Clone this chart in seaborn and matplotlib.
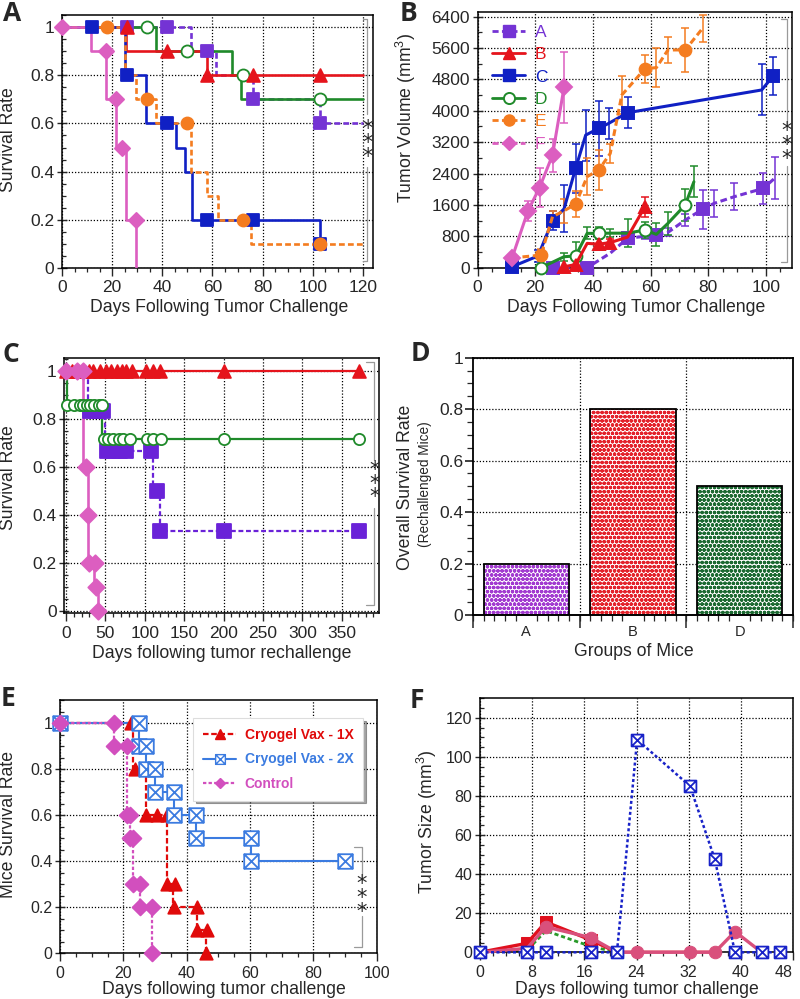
import matplotlib
matplotlib.use("Agg")
import matplotlib.pyplot as plt
import seaborn as sns
from matplotlib.path import Path
from matplotlib.lines import Line2D
from matplotlib.patches import Rectangle
from matplotlib.ticker import MultipleLocator

# ---------------- data ----------------

# Panel A: survival after tumor challenge (step curves + marked points)
a_A_days = [0, 51.5, 61.5, 76, 103, 120]
a_A_surv = [1, 0.9, 0.8, 0.7, 0.6, 0.6]
a_A_mk_days = [26, 42, 58, 76, 103]
a_A_mk_surv = [1, 1, 0.9, 0.7, 0.6]

a_B_days = [0, 25.5, 58, 120]
a_B_surv = [1, 0.9, 0.8, 0.8]
a_B_mk_days = [26, 42, 58, 76, 103]
a_B_mk_surv = [1, 0.9, 0.8, 0.8, 0.8]

a_C_days = [0, 25.2, 33.5, 45.5, 48.9, 51.8, 103]
a_C_surv = [1, 0.8, 0.6, 0.5, 0.4, 0.2, 0.1]
a_C_mk_days = [12, 26, 42, 58, 76, 103]
a_C_mk_surv = [1, 0.8, 0.6, 0.2, 0.2, 0.1]

a_D_days = [0, 37.5, 67.8, 71.5, 120]
a_D_surv = [1, 0.9, 0.8, 0.7, 0.7]
a_D_mk_days = [34, 50, 72, 103]
a_D_mk_surv = [1, 0.9, 0.8, 0.7]

a_E_days = [0, 25.2, 29.5, 37.5, 51.5, 58, 62.2, 75.2, 120]
a_E_surv = [1, 0.8, 0.7, 0.6, 0.4, 0.3, 0.2, 0.1, 0.1]
a_E_mk_days = [18, 34, 50, 72, 103]
a_E_mk_surv = [1, 0.7, 0.6, 0.2, 0.1]

a_F_days = [0, 11.5, 17.5, 21.5, 25.5, 29.5]
a_F_surv = [1, 0.9, 0.7, 0.5, 0.2, 0]
a_F_mk_days = [0, 17.5, 21.5, 24, 29.5]
a_F_mk_surv = [1, 0.9, 0.7, 0.5, 0.2]

# Panel B: tumor volume (mean, error, indices that carry a marker)
b_A_days = [26, 38, 46, 52, 58, 62, 66, 72, 78, 82, 89, 99, 103]
b_A_vol = [0, 0, 370, 750, 800, 830, 900, 1215, 1490, 1640, 1810, 2020, 2280]
b_A_err = [0, 0, 0, 100, 80, 80, 100, 150, 500, 350, 350, 400, 530]
b_A_marked = [0, 1, 3, 5, 8, 11]

b_B_days = [30, 34, 38, 42, 46, 52, 58]
b_B_vol = [25, 80, 620, 600, 640, 780, 1550]
b_B_err = [0, 0, 0, 150, 100, 100, 250]
b_B_marked = [0, 1, 3, 4, 6]

b_C_days = [12, 21, 26, 30, 34, 37.5, 42, 45.5, 52, 98.5, 102.5]
b_C_vol = [25, 300, 1200, 1500, 2530, 3380, 3550, 3680, 3950, 4530, 4890]
b_C_err = [0, 150, 250, 600, 630, 650, 700, 400, 400, 650, 480]
b_C_marked = [0, 2, 4, 6, 8, 10]

b_D_days = [22, 30, 34, 38, 42, 46, 52, 58, 62, 66, 72, 75]
b_D_vol = [0, 280, 300, 875, 875, 880, 880, 960, 850, 1130, 1600, 2190]
b_D_err = [0, 100, 350, 150, 150, 100, 350, 200, 300, 300, 400, 400]
b_D_marked = [0, 2, 4, 7, 10]

b_E_days = [12, 22, 26, 30, 34, 38, 42, 46, 50, 58, 62, 66, 72, 78]
b_E_vol = [250, 320, 1300, 1450, 1620, 2320, 2490, 2910, 4400, 5070, 5100, 5550, 5550, 6100]
b_E_err = [0, 150, 150, 300, 330, 470, 500, 250, 480, 350, 500, 330, 550, 350]
b_E_marked = [1, 4, 6, 9, 12]

b_F_days = [12, 17.5, 21.5, 26, 30]
b_F_vol = [255, 1450, 2040, 2870, 4600]
b_F_err = [0, 250, 500, 420, 900]
b_F_marked = [0, 1, 2, 3, 4]

# Panel C: survival after tumor rechallenge
c_B_days = [0, 375]
c_B_surv = [1, 1]
c_B_mk_days = [0, 8, 15, 22, 30, 35, 43, 51, 58, 65, 71, 77, 84, 102, 111, 120, 200, 372]
c_B_mk_surv = [1] * 18

c_D_days = [0, 1, 45.5, 372]
c_D_surv = [1, 0.857, 0.714, 0.714]
c_D_mk_days = [1, 10, 18, 22, 27, 31, 36, 42, 46,
               48, 54, 60, 67, 73, 81, 103, 111, 121, 201, 372]
c_D_mk_surv = [0.857] * 9 + [0.714] * 11

c_A_days = [0, 28.7, 49.8, 111, 119.4, 372]
c_A_surv = [1, 0.833, 0.667, 0.5, 0.333, 0.333]
c_A_mk_days = [31, 39, 47, 52, 60, 69, 77, 108, 116, 120, 200, 372]
c_A_mk_surv = [0.833, 0.833, 0.833, 0.667, 0.667, 0.667, 0.667, 0.667, 0.5, 0.333, 0.333, 0.333]

c_F_days = [0, 21.5, 28.7, 36.3, 40.5]
c_F_surv = [1, 0.6, 0.2, 0.1, 0]
c_F_mk_days = [0, 14, 22, 25.7, 28.7, 29.5, 37, 39, 40.5]
c_F_mk_surv = [1, 1, 1, 0.6, 0.4, 0.2, 0.2, 0.1, 0]

# Panel D: overall survival of rechallenged mice
d_groups = ["A", "B", "D"]
d_rates = [0.2, 0.8, 0.5]

# Panel E: survival, cryogel vaccine
e_1x_days = [0, 23, 27, 33.8, 35.7, 43.3, 46]
e_1x_surv = [1, 0.8, 0.6, 0.3, 0.2, 0.1, 0]
e_1x_mk_days = [22.4, 23.8, 27, 30.6, 33.8, 33.8, 36.4, 35.9, 43.3, 43.3, 46.3, 46]
e_1x_mk_surv = [1, 0.8, 0.6, 0.6, 0.6, 0.3, 0.3, 0.2, 0.2, 0.1, 0.1, 0]

e_2x_days = [0, 25.1, 27.1, 29.9, 36.1, 43.1, 60.2, 90]
e_2x_surv = [1, 0.9, 0.8, 0.7, 0.6, 0.5, 0.4, 0.4]
e_2x_mk_days = [0, 25.1, 25.1, 27.1, 27.1, 29.9, 29.9, 36.1, 36.1, 43.1, 43.1, 60.2, 60.2, 90]
e_2x_mk_surv = [1, 1, 0.9, 0.9, 0.8, 0.8, 0.7, 0.7, 0.6, 0.6, 0.5, 0.5, 0.4, 0.4]

e_ctl_days = [0, 17.2, 21, 22.2, 23, 25.3, 29]
e_ctl_surv = [1, 0.9, 0.6, 0.5, 0.3, 0.2, 0]
e_ctl_mk_days = [0, 17.2, 17.2, 21, 21, 22, 22.2, 23, 23, 25.3, 25.3, 29, 29]
e_ctl_mk_surv = [1, 1, 0.9, 0.9, 0.6, 0.6, 0.5, 0.5, 0.3, 0.3, 0.2, 0.2, 0]

# Panel F: tumor size
f_red_days = [0, 7.2, 10.1, 17, 21, 24.1, 32.2, 36]
f_red_size = [0, 4.6, 15.5, 6.3, 0, 0, 0, 0]
f_rose_days = [0, 7.2, 10.1, 17, 21, 24.1, 32.2, 36, 39.1, 43.2]
f_rose_size = [0, 2, 13, 7.5, 0, 0, 0, 0, 10.6, 0]
f_green_days = [0, 7.2, 10.1, 17, 21]
f_green_size = [0, 1, 11, 3, 0]
f_blue_days = [0, 7.2, 10.1, 17, 21, 24.1, 32.2, 36, 39.1, 43.2, 46]
f_blue_size = [0, 0, 0, 0, 0, 108.8, 85.1, 47.7, 0, 0, 0]
f_ticks = [0, 8, 16, 24, 32, 40, 48]

# ---------------- styling ----------------
PURPLE = "#7433d4"
RED = "#e5141c"
BLUE = "#1020c4"
GREEN = "#1f8a2a"
ORANGE = "#f47c20"
PINK = "#dc5ec0"
SHORT_DASH = (0, (2.2, 1.2))

sns.set_theme(style="ticks")
plt.rcParams["font.family"] = ["Liberation Sans", "DejaVu Sans"]
plt.rcParams["mathtext.fontset"] = "custom"
plt.rcParams["mathtext.rm"] = "Liberation Sans"
plt.rcParams["hatch.linewidth"] = 1.25

# square with an X inside
BOXX = Path([(-1, -1), (1, -1), (1, 1), (-1, 1), (-1, -1), (-1, -1), (1, 1), (-1, 1), (1, -1)],
            [Path.MOVETO, Path.LINETO, Path.LINETO, Path.LINETO, Path.CLOSEPOLY,
             Path.MOVETO, Path.LINETO, Path.MOVETO, Path.LINETO])

W, H = 800, 999
fig = plt.figure(figsize=(W / 100, H / 100), dpi=100)


def px_axes(left, top, right, bottom):
    """Add an axes given its pixel box."""
    return fig.add_axes([left / W, 1 - bottom / H, (right - left) / W, (bottom - top) / H])


def ftext(x, y, s, **kw):
    fig.text(x / W, 1 - y / H, s, **kw)


def style_axes(ax, xmaj, xmin, ymaj, ymin, tick_size=12.5):
    for sp in ax.spines.values():
        sp.set_visible(True)
        sp.set_color("black")
        sp.set_linewidth(1.1)
    ax.xaxis.set_major_locator(MultipleLocator(xmaj))
    ax.xaxis.set_minor_locator(MultipleLocator(xmin))
    ax.yaxis.set_major_locator(MultipleLocator(ymaj))
    ax.yaxis.set_minor_locator(MultipleLocator(ymin))
    ax.grid(True, which="major", linestyle=(0, (1, 1.5)), color="black", linewidth=0.9)
    ax.set_axisbelow(True)
    ax.tick_params(axis="x", which="major", direction="out", length=6, width=1, labelsize=tick_size, pad=3)
    ax.tick_params(axis="x", which="minor", direction="out", length=3, width=0.9)
    ax.tick_params(axis="y", which="major", direction="inout", length=7, width=1, labelsize=tick_size, pad=2)
    ax.tick_params(axis="y", which="minor", direction="in", length=3, width=0.9)
    ax.set_xlabel("")
    ax.set_ylabel("")


def km(ax, days, surv, mk_days, mk_surv, color, marker, ls="-", size=70, face=None, lw=1.9, z=3):
    """Kaplan-Meier style step curve with its marked observations."""
    sns.lineplot(x=days, y=surv, ax=ax, color=color, linewidth=lw, linestyle=ls,
                 drawstyle="steps-post", estimator=None, sort=False, zorder=z)
    sns.scatterplot(x=mk_days, y=mk_surv, ax=ax, marker=marker, s=size,
                    facecolor=face if face else color, edgecolor=color, linewidth=1.3,
                    zorder=z + 0.5, clip_on=False)


def growth(ax, days, vals, errs, marked, color, marker, ls="-", face=None, ms=8.5, z=3):
    """Tumor growth line with error bars, markers only on some points."""
    ex = [d for d, e in zip(days, errs) if e > 0]
    ey = [v for v, e in zip(vals, errs) if e > 0]
    ee = [e for e in errs if e > 0]
    ax.errorbar(ex, ey, yerr=ee, fmt="none", ecolor=color, elinewidth=1.1, capsize=3, capthick=1.1, zorder=z - 0.5)
    sns.lineplot(x=days, y=vals, ax=ax, color=color, linewidth=2.2, linestyle=ls, estimator=None, sort=False,
                 marker=marker, markevery=marked, markersize=ms, markerfacecolor=face if face else color,
                 markeredgecolor=color, markeredgewidth=1.4, zorder=z, clip_on=False)


def bracket(ax, x, y0, y1, g0, g1, tick, stars_y):
    """Thin significance bracket with stacked asterisks."""
    kw = dict(color="#9a9a9a", linewidth=0.9, clip_on=False, zorder=1)
    ax.plot([x - tick, x, x], [y1, y1, g1], **kw)
    ax.plot([x, x, x - tick], [g0, y0, y0], **kw)
    ax.text(x, stars_y, "*\n*\n*", ha="center", va="center", fontsize=15, linespacing=0.62,
            family=["DejaVu Sans"], clip_on=False)


# ---------------- Panel A ----------------
ax = px_axes(62, 15, 373, 268)
km(ax, a_A_days, a_A_surv, a_A_mk_days, a_A_mk_surv, PURPLE, "s", ls=SHORT_DASH, size=75)
km(ax, a_D_days, a_D_surv, a_D_mk_days, a_D_mk_surv, GREEN, "o", size=75, face="white")
km(ax, a_B_days, a_B_surv, a_B_mk_days, a_B_mk_surv, RED, "^", size=85)
km(ax, a_C_days, a_C_surv, a_C_mk_days, a_C_mk_surv, BLUE, "s", size=75)
km(ax, a_E_days, a_E_surv, a_E_mk_days, a_E_mk_surv, ORANGE, "o", ls=SHORT_DASH, size=75)
km(ax, a_F_days, a_F_surv, a_F_mk_days, a_F_mk_surv, PINK, "D", size=60)
ax.set_xlim(0, 124)
ax.set_ylim(0, 1.05)
style_axes(ax, 20, 5, 0.2, 0.05)
ax.set_yticks([0, 0.2, 0.4, 0.6, 0.8, 1.0], ["0", "0.2", "0.4", "0.6", "0.8", "1"])
bracket(ax, 121.7, 0.03, 1.035, 0.42, 0.64, 1.5, 0.52)

# ---------------- Panel B ----------------
ax = px_axes(477.5, 11.5, 792, 267.7)
growth(ax, b_A_days, b_A_vol, b_A_err, b_A_marked, PURPLE, "s", ls=SHORT_DASH)
growth(ax, b_D_days, b_D_vol, b_D_err, b_D_marked, GREEN, "o", face="white")
growth(ax, b_B_days, b_B_vol, b_B_err, b_B_marked, RED, "^", ms=9)
growth(ax, b_C_days, b_C_vol, b_C_err, b_C_marked, BLUE, "s")
growth(ax, b_E_days, b_E_vol, b_E_err, b_E_marked, ORANGE, "o", ls=SHORT_DASH)
growth(ax, b_F_days, b_F_vol, b_F_err, b_F_marked, PINK, "D", ms=8)
ax.set_xlim(0, 109)
ax.set_ylim(0, 6530)
style_axes(ax, 20, 5, 800, 400)
bracket(ax, 107.2, 150, 6330, 2600, 3650, 2, 3130)
handles = [
    Line2D([], [], color=PURPLE, ls=SHORT_DASH, lw=2, marker="s", ms=8, label="A"),
    Line2D([], [], color=RED, ls="-", lw=2, marker="^", ms=9, label="B"),
    Line2D([], [], color=BLUE, ls="-", lw=2, marker="s", ms=8, label="C"),
    Line2D([], [], color=GREEN, ls="-", lw=2, marker="o", ms=8, mfc="white", mew=1.4, label="D"),
    Line2D([], [], color=ORANGE, ls=SHORT_DASH, lw=2, marker="o", ms=8, label="E"),
    Line2D([], [], color=PINK, ls=SHORT_DASH, lw=2, marker="D", ms=7.5, label="F"),
]
ax.legend(handles=handles, loc="upper left", bbox_to_anchor=(0.005, 1.0), frameon=False,
          fontsize=12.5, labelcolor="linecolor", handlelength=1.9, handletextpad=0.55,
          labelspacing=0.42, borderpad=0.25)

# ---------------- Panel C ----------------
ax = px_axes(64.3, 357.7, 379, 613)
km(ax, c_A_days, c_A_surv, c_A_mk_days, c_A_mk_surv, "#6a22d8", "s", ls=SHORT_DASH, size=110, lw=1.6)
km(ax, c_D_days, c_D_surv, c_D_mk_days, c_D_mk_surv, GREEN, "o", size=65, face="white", lw=1.6)
km(ax, c_B_days, c_B_surv, c_B_mk_days, c_B_mk_surv, RED, "^", size=85, lw=1.6)
km(ax, c_F_days, c_F_surv, c_F_mk_days, c_F_mk_surv, PINK, "D", size=70, lw=1.9)
ax.set_xlim(-1.8, 397)
ax.set_ylim(-0.01, 1.055)
style_axes(ax, 50, 10, 0.2, 0.05)
ax.set_yticks([0, 0.2, 0.4, 0.6, 0.8, 1.0], ["0", "0.2", "0.4", "0.6", "0.8", "1"])
bracket(ax, 391, 0.025, 1.035, 0.43, 0.63, 10, 0.53)

# ---------------- Panel D ----------------
ax = px_axes(473, 357.7, 793, 615)
d_colors = ["#a23ad0", "#e3222b", "#1c6a32"]
sns.barplot(x=d_groups, y=d_rates, hue=d_groups, palette=d_colors, legend=False, width=0.8, ax=ax, zorder=2)
for patch, col in zip(ax.patches, d_colors):
    patch.set_facecolor("white")
    patch.set_edgecolor(col)
    patch.set_hatch("oooo")
    patch.set_linewidth(0)
    ax.add_patch(Rectangle(patch.get_xy(), patch.get_width(), patch.get_height(),
                           fill=False, edgecolor="black", linewidth=1.3, zorder=3))
ax.set_xlim(-0.5, 2.5)
ax.set_ylim(0, 1)
for sp in ax.spines.values():
    sp.set_visible(True)
    sp.set_color("black")
    sp.set_linewidth(1.3)
ax.yaxis.set_major_locator(MultipleLocator(0.2))
ax.yaxis.set_minor_locator(MultipleLocator(0.05))
ax.set_yticks([0, 0.2, 0.4, 0.6, 0.8, 1.0], ["0", "0.2", "0.4", "0.6", "0.8", "1"])
ax.xaxis.set_minor_locator(MultipleLocator(0.1))
ax.grid(True, axis="y", linestyle=(0, (1, 1.5)), color="black", linewidth=0.9)
for bnd in [0.5, 1.5]:
    ax.axvline(bnd, linestyle=(0, (1, 1.5)), color="black", linewidth=0.9, zorder=1)
ax.set_axisbelow(True)
ax.tick_params(axis="x", which="major", length=0, labelsize=10.5, pad=7)
ax.tick_params(axis="x", which="minor", direction="out", length=4, width=0.9)
ax.tick_params(axis="y", which="major", direction="out", length=6, labelsize=12.5, pad=1)
ax.tick_params(axis="y", which="minor", direction="out", length=4, width=0.9)
sec = ax.secondary_xaxis("bottom")
sec.set_xticks([-0.5, 0.5, 1.5, 2.5], ["", "", "", ""])
sec.tick_params(length=9, width=1.1, direction="out")
ax.set_xlabel("")
ax.set_ylabel("")

# ---------------- Panel E ----------------
ax = px_axes(60, 700, 376.7, 953.3)
E_RED = "#e00a0a"
E_BLUE = "#3b7be0"
E_PINK = "#d24fbe"
km(ax, e_1x_days, e_1x_surv, e_1x_mk_days, e_1x_mk_surv, E_RED, "^", ls=(0, (2.5, 1.2)), size=80, lw=1.6)
km(ax, e_2x_days, e_2x_surv, e_2x_mk_days, e_2x_mk_surv, E_BLUE, BOXX, size=110, face="white", lw=1.5)
km(ax, e_ctl_days, e_ctl_surv, e_ctl_mk_days, e_ctl_mk_surv, E_PINK, "D", ls=(0, (1.5, 1)), size=65, lw=1.6)
ax.set_xlim(0, 100)
ax.set_ylim(0, 1.1)
style_axes(ax, 20, 5, 0.2, 0.05, tick_size=11.5)
ax.set_yticks([0, 0.2, 0.4, 0.6, 0.8, 1.0], ["0", "0.2", "0.4", "0.6", "0.8", "1"])
bracket(ax, 95.3, 0.027, 0.46, 0.16, 0.32, 2.5, 0.24)
e_handles = [
    Line2D([], [], color=E_RED, ls=(0, (2.5, 1.2)), lw=1.6, marker="^", ms=7, label="Cryogel Vax - 1X"),
    Line2D([], [], color=E_BLUE, ls="-", lw=1.5, marker=BOXX, ms=7, mfc="white", label="Cryogel Vax - 2X"),
    Line2D([], [], color=E_PINK, ls=(0, (1.5, 1)), lw=1.6, marker="D", ms=5.5, label="Control"),
]
leg = ax.legend(handles=e_handles, loc="upper right", bbox_to_anchor=(0.98, 0.955), frameon=True,
                fancybox=False, shadow=True, labelcolor="linecolor", handlelength=2.4,
                handletextpad=0.6, labelspacing=0.75, borderpad=0.7,
                prop={"family": ["Liberation Sans"], "weight": "bold", "size": 10})
leg.get_frame().set_edgecolor("#dddddd")
leg.get_frame().set_linewidth(0.8)

# ---------------- Panel F ----------------
ax = px_axes(480, 698.3, 793, 952.3)
sns.lineplot(x=f_green_days, y=f_green_size, ax=ax, color="#2a9a2a", linewidth=2, linestyle=(0, (1.5, 1)),
             estimator=None, sort=False, zorder=2)
sns.lineplot(x=f_blue_days, y=f_blue_size, ax=ax, color="#1822c8", linewidth=1.8, linestyle=(0, (1.2, 1)),
             estimator=None, sort=False, marker=BOXX, markersize=8.5, markerfacecolor="white",
             markeredgecolor="#1822c8", markeredgewidth=1.3, zorder=5, clip_on=False)
sns.lineplot(x=f_red_days, y=f_red_size, ax=ax, color="#e0101e", linewidth=2.4, estimator=None, sort=False,
             marker="s", markevery=[1, 2, 3], markersize=8, markerfacecolor="#e0101e",
             markeredgecolor="#e0101e", zorder=3)
sns.lineplot(x=f_rose_days, y=f_rose_size, ax=ax, color="#d9507c", linewidth=2.4, estimator=None, sort=False,
             marker="o", markevery=[2, 3, 5, 6, 7, 8], markersize=9, markerfacecolor="#d9507c",
             markeredgecolor="#d9507c", zorder=4, clip_on=False)
ax.set_xlim(0, 48)
ax.set_ylim(0, 130)
style_axes(ax, 8, 2, 20, 5, tick_size=11.5)
ax.set_xticks(f_ticks, [str(t) for t in f_ticks])
ax.get_xticklabels()[-1].set_horizontalalignment("right")

# ---------------- labels ----------------
lab = 12.7
ftext(219, 308, "Days Following Tumor Challenge", fontsize=lab, ha="center", va="center")
ftext(636, 307, "Days Following Tumor Challenge", fontsize=lab, ha="center", va="center")
ftext(222, 653, "Days following tumor rechallenge", fontsize=lab, ha="center", va="center")
ftext(634, 651, "Groups of Mice", fontsize=lab, ha="center", va="center")
ftext(224, 989, "Days following tumor challenge", fontsize=lab, ha="center", va="center")
ftext(637, 989, "Days following tumor challenge", fontsize=lab, ha="center", va="center")

ftext(9, 140, "Survival Rate", fontsize=lab, rotation=90, ha="center", va="center")
ftext(406, 118, "Tumor Volume (mm$^{3}$)", fontsize=lab, rotation=90, ha="center", va="center")
ftext(9, 478, "Survival Rate", fontsize=lab, rotation=90, ha="center", va="center")
ftext(406, 487, "Overall Survival Rate", fontsize=lab, rotation=90, ha="center", va="center")
ftext(425, 484, "(Rechallenged Mice)", fontsize=9.8, rotation=90, ha="center", va="center")
ftext(9, 825, "Mice Survival Rate", fontsize=lab, rotation=90, ha="center", va="center")
ftext(427, 822, "Tumor Size (mm$^{3}$)", fontsize=lab, rotation=90, ha="center", va="center")

panel_kw = dict(fontsize=19, fontweight="bold", family=["Open Sans", "DejaVu Sans"], ha="left", va="top")
ftext(3, 0, "A", **panel_kw)
ftext(400, 0, "B", **panel_kw)
ftext(3, 341, "C", **panel_kw)
ftext(411, 340, "D", **panel_kw)
ftext(1, 685, "E", **panel_kw)
ftext(410, 687, "F", **panel_kw)

fig.savefig("out.png", dpi=100)
